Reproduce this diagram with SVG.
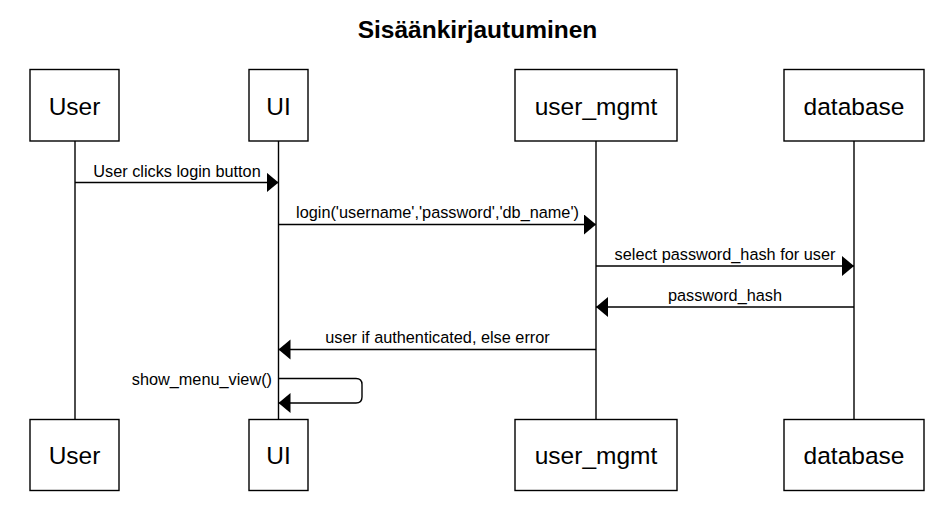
<svg xmlns="http://www.w3.org/2000/svg" width="943" height="505" viewBox="0 0 943 505">
  <defs>
    <marker id="arrow" markerUnits="userSpaceOnUse" markerWidth="13" markerHeight="21" refX="12" refY="10" orient="auto">
      <path d="M0,0 L12,10 L0,20 z" fill="#000"/>
    </marker>
    <style>
      .box { fill: #fff; stroke: #000; stroke-width: 1.4; }
      .life { stroke: #000; stroke-width: 1.4; fill: none; }
      .msg { stroke: #000; stroke-width: 1.4; fill: none; marker-end: url(#arrow); }
      .name { font-family: "Liberation Sans", Arial, sans-serif; font-size: 24.5px; fill: #000; text-anchor: middle; }
      .lbl { font-family: "Liberation Sans", Arial, sans-serif; font-size: 16.3px; fill: #000; text-anchor: middle; }
      .title { font-family: "Liberation Sans", Arial, sans-serif; font-size: 24.5px; font-weight: bold; fill: #000; text-anchor: middle; }
    </style>
  </defs>
  <rect width="943" height="505" fill="#fff"/>
  <text class="title" x="477.5" y="37.5">Sisäänkirjautuminen</text>

  <g id="lifelines">
    <line class="life" x1="75" y1="141" x2="75" y2="419"/>
    <line class="life" x1="278.5" y1="141" x2="278.5" y2="419"/>
    <line class="life" x1="596" y1="141" x2="596" y2="419"/>
    <line class="life" x1="854" y1="141" x2="854" y2="419"/>
  </g>

  <g id="node-user">
    <rect class="box" x="30" y="69.5" width="89" height="71.5"/>
    <text class="name" x="74.5" y="114.5">User</text>
    <rect class="box" x="30" y="419.5" width="89" height="71"/>
    <text class="name" x="74.5" y="464">User</text>
  </g>
  <g id="node-ui">
    <rect class="box" x="249" y="69.5" width="59" height="71.5"/>
    <text class="name" x="278.5" y="114.5">UI</text>
    <rect class="box" x="249" y="419.5" width="59" height="71"/>
    <text class="name" x="278.5" y="464">UI</text>
  </g>
  <g id="node-user_mgmt">
    <rect class="box" x="515" y="69.5" width="162" height="71.5"/>
    <text class="name" x="596" y="114.5">user_mgmt</text>
    <rect class="box" x="515" y="419.5" width="162" height="71"/>
    <text class="name" x="596" y="464">user_mgmt</text>
  </g>
  <g id="node-database">
    <rect class="box" x="784" y="69.5" width="140" height="71.5"/>
    <text class="name" x="854" y="114.5">database</text>
    <rect class="box" x="784" y="419.5" width="140" height="71"/>
    <text class="name" x="854" y="464">database</text>
  </g>

  <g id="connectors">
    <line class="msg" x1="75" y1="182.5" x2="278.5" y2="182.5"/>
    <text class="lbl" x="177" y="176.5">User clicks login button</text>

    <line class="msg" x1="278.5" y1="224.5" x2="596" y2="224.5"/>
    <text class="lbl" x="437.5" y="218">login('username','password','db_name')</text>

    <line class="msg" x1="596" y1="266" x2="854" y2="266"/>
    <text class="lbl" x="725" y="259.5">select password_hash for user</text>

    <line class="msg" x1="854" y1="307" x2="596" y2="307"/>
    <text class="lbl" x="725" y="300.5">password_hash</text>

    <line class="msg" x1="596" y1="349.5" x2="278.5" y2="349.5"/>
    <text class="lbl" x="437.5" y="343">user if authenticated, else error</text>

    <path class="msg" d="M278.5,378.5 L356,378.5 Q362,378.5 362,384.5 L362,397 Q362,403 356,403 L278.5,403"/>
    <text class="lbl" x="272" y="385" style="text-anchor:end">show_menu_view()</text>
  </g>
</svg>
